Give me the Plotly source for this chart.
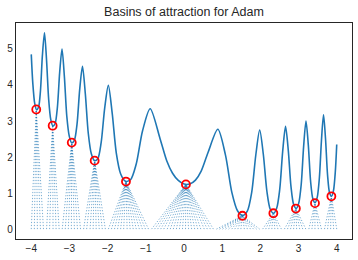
import plotly.graph_objects as go

# Loss curve samples
curve_x = [-4.00, -3.96, -3.91, -3.86, -3.81, -3.76, -3.71, -3.654, -3.60, -3.545,
           -3.489, -3.432, -3.375, -3.316, -3.256, -3.195, -3.133, -3.07, -3.005, -2.939,
           -2.872, -2.803, -2.732, -2.659, -2.584, -2.507, -2.427, -2.345, -2.259, -2.171,
           -2.078, -1.982, -1.88, -1.773, -1.658, -1.535, -1.401, -1.253, -1.085, -0.886,
           -0.627, -0.45, -0.30, -0.15, 0.00, 0.15, 0.30, 0.45, 0.627, 0.886,
           1.085, 1.253, 1.401, 1.535, 1.658, 1.773, 1.88, 1.982, 2.078, 2.171,
           2.259, 2.345, 2.427, 2.507, 2.584, 2.659, 2.732, 2.803, 2.872, 2.939,
           3.005, 3.07, 3.133, 3.195, 3.256, 3.316, 3.375, 3.432, 3.489, 3.545,
           3.60, 3.654, 3.707, 3.76, 3.812, 3.863, 3.914, 3.963, 4.00]
curve_y = [4.85, 4.05, 3.49, 3.31, 3.38, 3.83, 4.80, 5.45, 4.69, 3.61,
           3.04, 2.86, 2.93, 3.38, 4.35, 5.00, 4.23, 3.14, 2.58, 2.39,
           2.46, 2.90, 3.87, 4.52, 3.75, 2.66, 2.09, 1.90, 1.95, 2.39,
           3.35, 3.99, 3.21, 2.11, 1.53, 1.33, 1.37, 1.80, 2.73, 3.34,
           2.51, 1.89, 1.55, 1.35, 1.25, 1.25, 1.36, 1.61, 2.12, 2.77,
           2.06, 1.02, 0.51, 0.38, 0.50, 1.02, 2.05, 2.75, 2.07, 1.05,
           0.55, 0.44, 0.58, 1.10, 2.15, 2.85, 2.18, 1.17, 0.68, 0.57,
           0.72, 1.24, 2.29, 3.00, 2.33, 1.32, 0.84, 0.73, 0.88, 1.41,
           2.46, 3.17, 2.50, 1.50, 1.01, 0.91, 1.06, 1.59, 2.35]

# Minima reached by Adam (red circles)
min_x = [-3.87, -3.44, -2.94, -2.34, -1.52, 0.05, 1.53, 2.34, 2.93, 3.43, 3.86]
min_y = [3.32, 2.87, 2.40, 1.90, 1.32, 1.24, 0.37, 0.44, 0.57, 0.72, 0.91]

# Starting points, grouped by the minimum they converge to
start_y = 0.0
start_groups = [
    [-4.00, -3.92, -3.84, -3.76, -3.68],
    [-3.60, -3.52, -3.43, -3.35, -3.27],
    [-3.19, -3.11, -3.03, -2.95, -2.87, -2.79, -2.71],
    [-2.63, -2.55, -2.46, -2.38, -2.30, -2.22, -2.14, -2.06],
    [-1.98, -1.90, -1.82, -1.74, -1.66, -1.58, -1.49, -1.41, -1.33, -1.25, -1.17,
     -1.09, -1.01, -0.93],
    [-0.85, -0.77, -0.69, -0.61, -0.53, -0.44, -0.36, -0.28, -0.20, -0.12, -0.04,
     0.04, 0.12, 0.20, 0.28, 0.36, 0.44, 0.53, 0.61, 0.69, 0.77],
    [0.85, 0.93, 1.01, 1.09, 1.17, 1.25, 1.33, 1.41, 1.49, 1.58, 1.66, 1.74, 1.82,
     1.90, 1.98],
    [2.06, 2.14, 2.22, 2.30, 2.38, 2.46, 2.55],
    [2.63, 2.71, 2.79, 2.87, 2.95, 3.03, 3.11, 3.19],
    [3.27, 3.35, 3.43, 3.52, 3.60],
    [3.68, 3.76, 3.84, 3.92, 4.00],
]

x_ticks = [-4, -3, -2, -1, 0, 1, 2, 3, 4]
y_ticks = [0, 1, 2, 3, 4, 5]

fig = go.Figure()

lx, ly = [], []
for mx, my, starts in zip(min_x, min_y, start_groups):
    for sx in starts:
        lx += [sx, mx, None]
        ly += [start_y, my, None]

fig.add_trace(go.Scatter(
    x=lx, y=ly, mode="lines",
    line=dict(color="rgba(31,119,180,0.6)", width=1, dash="1.2px,1.8px"),
    hoverinfo="skip"))

fig.add_trace(go.Scatter(
    x=curve_x, y=curve_y, mode="lines",
    line=dict(color="#1f77b4", width=1.6, shape="spline", smoothing=0.8),
    hoverinfo="skip"))

fig.add_trace(go.Scatter(
    x=min_x, y=min_y, mode="markers",
    marker=dict(symbol="circle-open", size=8, color="red",
                line=dict(width=1.8, color="red")),
    hoverinfo="skip"))

fig.update_layout(
    width=358, height=260,
    margin=dict(l=16, r=6, t=23, b=21, autoexpand=False),
    paper_bgcolor="white", plot_bgcolor="white",
    showlegend=False,
    hovermode=False,
    font=dict(family="Liberation Sans, Arial, sans-serif", size=10, color="#262626"),
    title=dict(text="Basins of attraction for Adam", x=0.5, xref="paper",
               xanchor="center", y=1 - 12 / 260, yref="container", yanchor="middle",
               font=dict(family="Liberation Sans, Arial, sans-serif", size=12.5,
                         color="#262626")),
)
axis_style = dict(showgrid=False, zeroline=False, showline=True, mirror=True,
                  linecolor="#262626", linewidth=1.25, ticks="", ticklen=0,
                  automargin=False)
fig.update_xaxes(range=[-4.4, 4.4], tickvals=x_ticks, **axis_style)
fig.update_yaxes(range=[-0.275, 5.72], tickvals=y_ticks, **axis_style)

fig.write_html(
    "out.html",
    config={"displayModeBar": False, "staticPlot": True},
    post_script="document.body.style.margin='0';document.body.style.overflow='hidden';",
)
